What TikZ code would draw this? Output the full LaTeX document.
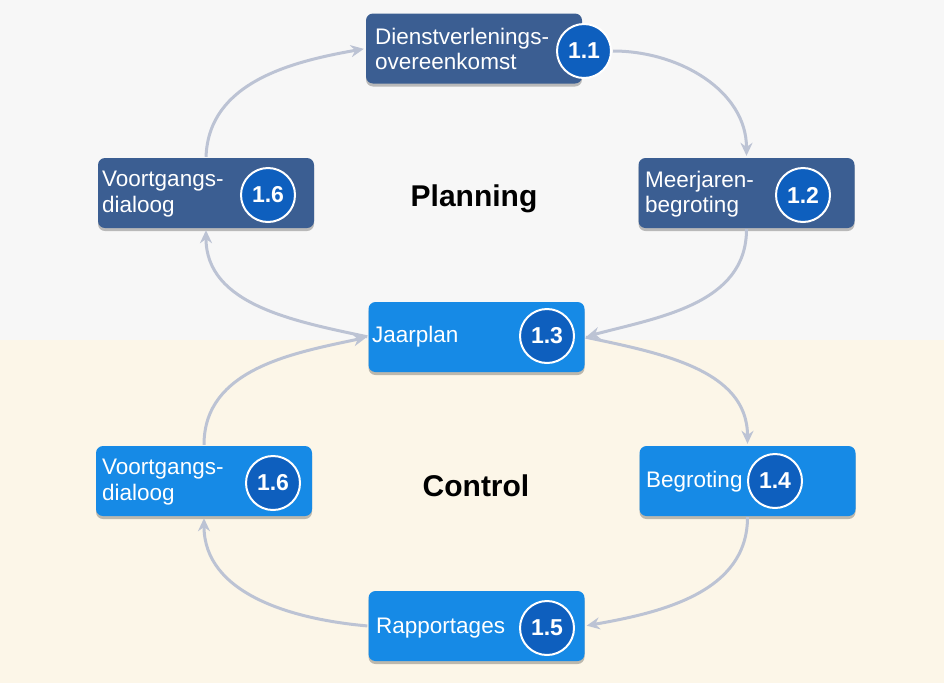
\documentclass[tikz,border=0pt]{standalone}
\usepackage{fontspec}
\setmainfont{Liberation Sans}
\usetikzlibrary{arrows.meta,shadows}
\definecolor{darkbox}{RGB}{59,94,146}
\definecolor{lightbox}{RGB}{22,138,230}
\definecolor{numfill}{RGB}{14,95,190}
\definecolor{arrowc}{RGB}{188,195,212}
\definecolor{topbg}{RGB}{247,247,247}
\definecolor{botbg}{RGB}{252,246,232}
\tikzset{
  boxbase/.style={rectangle, rounded corners=7pt, minimum width=216pt, minimum height=70pt, inner sep=0pt,
    drop shadow={shadow xshift=0pt, shadow yshift=-3pt, opacity=0.25, fill=black}},
  darkstep/.style={boxbase, fill=darkbox},
  lightstep/.style={boxbase, fill=lightbox},
  boxtext/.style={anchor=west, align=left, inner sep=0pt, text=white, font=\fontsize{22.5}{25.5}\selectfont},
  numcircle/.style={circle, fill=numfill, draw=white, line width=2pt, minimum size=54pt, inner sep=0pt,
    text=white, font=\bfseries\fontsize{23}{23}\selectfont},
  cyc/.style={draw=arrowc, line width=3pt, -{Stealth[length=13pt,width=12pt]}, shorten >=2pt, shorten <=1pt},
  phase/.style={font=\bfseries\fontsize{30}{30}\selectfont, text=black}
}
\begin{document}
\begin{tikzpicture}[x=1pt,y=-1pt]
\fill[topbg] (0,0) rectangle (944,340);
\fill[botbg] (0,340) rectangle (944,683);
\useasboundingbox (0,0) rectangle (944,683);

% boxes
\node[darkstep] (b11) at (474,48.5) {};
\node[darkstep] (b12) at (746.5,193) {};
\node[lightstep] (b13) at (476.5,337) {};
\node[darkstep] (b16a) at (206,193) {};
\node[lightstep] (b16b) at (204,481) {};
\node[lightstep] (b14) at (747.5,481) {};
\node[lightstep] (b15) at (476.5,626) {};

% texts
\node[boxtext] (t11) at (375,49) {Dienstverlenings-\\overeenkomst};
\node[boxtext] (t12) at (645,194) {Meerjaren-\\begroting};
\node[boxtext] (t13) at (372,337) {Jaarplan};
\node[boxtext] (t16a) at (102,194) {Voortgangs-\\dialoog};
\node[boxtext] (t16b) at (102,482) {Voortgangs-\\dialoog};
\node[boxtext] (t14) at (646,482) {Begroting};
\node[boxtext] (t15) at (376,628) {Rapportages};

% number circles
\node[numcircle] (c11) at (584,51) {1.1};
\node[numcircle] (c12) at (803,195) {1.2};
\node[numcircle] (c13) at (547,336) {1.3};
\node[numcircle] (c16a) at (268,195) {1.6};
\node[numcircle] (c16b) at (273,483) {1.6};
\node[numcircle] (c14) at (775,481) {1.4};
\node[numcircle] (c15) at (547,628) {1.5};

% phase labels
\node[phase] (pl) at (474,199) {Planning};
\node[phase] (co) at (476,486) {Control};

% planning cycle
\draw[cyc] (c11.east) to[out=0,in=90] (b12.north);
\draw[cyc] (b12.south) to[out=-90,in=15] (b13.east);
\draw[cyc] (b13.west) to[out=168,in=-90] (b16a.south);
\draw[cyc] (b16a.north) to[out=88,in=190] (b11.west);

% control cycle
\draw[cyc] (b13.east) to[out=-12,in=90] (b14.north);
\draw[cyc] (b14.south) to[out=-90,in=10] (b15.east);
\draw[cyc] (b15.west) to[out=175,in=-90] (b16b.south);
\draw[cyc] (b16b.north) to[out=90,in=192] (b13.west);
\end{tikzpicture}
\end{document}
